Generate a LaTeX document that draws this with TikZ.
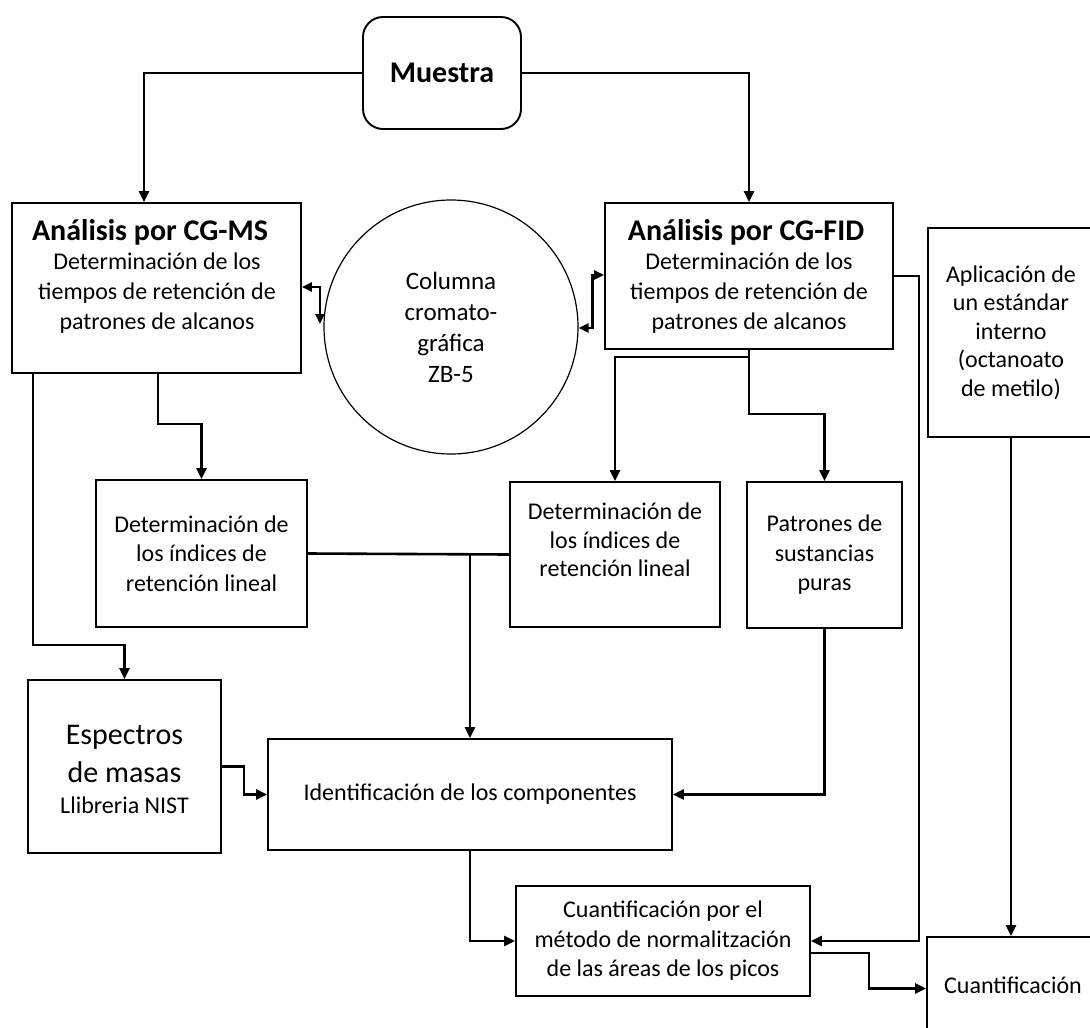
\documentclass[tikz,border=0pt]{standalone}
\usepackage{fontspec}
\setmainfont{Carlito}
\usetikzlibrary{arrows.meta,calc}
\begin{document}
\begin{tikzpicture}[x=1pt,y=-1pt,
  box/.style={draw, line width=1.9pt, inner sep=0pt, align=center,
    font=\fontsize{24}{29.5}\selectfont},
  conn/.style={line width=2.6pt},
  arr/.style={conn, -{Triangle[length=11pt,width=10pt]}},
  arrr/.style={conn, {Triangle[length=10pt,width=9pt]}-{Triangle[length=10pt,width=9pt]}},
  txt/.style={inner sep=0pt, align=center, font=\fontsize{24}{30}\selectfont},
  head/.style={inner sep=0pt, font=\bfseries\fontsize{30}{36}\selectfont}]
\useasboundingbox (0,0) rectangle (1090,1028);
\fill[white] (0,0) rectangle (1090,1028);
\begin{scope}
\clip (0,0) rectangle (1090,1028);
% nodes
\node[box, rounded corners=20pt, minimum width=158pt, minimum height=112pt,
  font=\bfseries\fontsize{30}{36}\selectfont] (muestra) at (442,73) {Muestra};
\node[box, minimum width=289pt, minimum height=170pt] (gms) at (156.5,288) {};
\node[head] (gmsh) at (150,232) {Análisis por CG-MS};
\node[txt] (gmst) at (157,293) {Determinación de los\\tiempos de retención de\\patrones de alcanos};
\node[draw, circle, line width=1.2pt, minimum size=254pt, inner sep=0pt, align=center,
  font=\fontsize{25}{31}\selectfont] (col) at (451,327) {Columna\\cromato-\\gráfica\\ZB-5};
\node[box, minimum width=288pt, minimum height=146pt] (gfid) at (749,276) {};
\node[head] (gfidh) at (746,232) {Análisis por CG-FID};
\node[txt] (gfidt) at (749,293) {Determinación de los\\tiempos de retención de\\patrones de alcanos};
\node[box, minimum width=166pt, minimum height=209pt,
  font=\fontsize{24}{28.5}\selectfont] (apl) at (1011,332.5)
  {Aplicación de\\un estándar\\interno\\(octanoato\\de metilo)};
\node[box, minimum width=211pt, minimum height=147pt] (dir1) at (201.5,553.5)
  {Determinación de\\los índices de\\retención lineal};
\node[box, minimum width=210pt, minimum height=145pt] (dir2) at (615,554.5) {};
\node[txt, font=\fontsize{24}{28.5}\selectfont] (dir2t) at (615,540)
  {Determinación de\\los índices de\\retención lineal};
\node[box, minimum width=155pt, minimum height=146pt] (pat) at (824.5,555)
  {Patrones de\\sustancias\\puras};
\node[box, minimum width=193pt, minimum height=173pt] (esp) at (124.5,766.5) {};
\node[txt, font=\fontsize{30}{38}\selectfont] (espt) at (124.5,754) {Espectros\\de masas};
\node[txt] (espn) at (124.5,805) {Llibreria NIST};
\node[box, minimum width=404pt, minimum height=111pt] (ide) at (470,794.5)
  {Identificación de los componentes};
\node[box, minimum width=294pt, minimum height=110pt] (cq1) at (663,941)
  {Cuantificación por el\\método de normalitzación\\de las áreas de los picos};
\node[box, minimum width=170pt, minimum height=103pt] (cq) at (1012,988.5) {};
\node[txt] (cqt) at (1013,985) {Cuantificación};
% connectors
\draw[arr] (muestra.west) -| ([xshift=-12.5pt]gms.north);
\draw[arr] (muestra.east) -| (gfid.north);
\draw[arr] ([xshift=-123.5pt]gms.south) |- ([yshift=34pt]esp.north) -- (esp.north);
\draw[arr] ([xshift=1.5pt]gms.south) |- ([yshift=55pt]dir1.north) -- (dir1.north);
\draw[arr] (gfid.south) |- ([yshift=124pt]dir2.north) -- (dir2.north);
\draw[arr] (gfid.south) |- ([yshift=67pt]pat.north) -- (pat.north);
\draw[conn] (dir1.east) -- (dir2.west);
\draw[arr] (ide.north |- dir1.east) -- (ide.north);
\draw[arr] (esp.east) -- ++(22,0) |- (ide.west);
\draw[arr] (pat.south) |- (ide.east);
\draw[arr] (gfid.east) -- ++(25,0) |- (cq1.east);
\draw[arr] (ide.south) |- (cq1.west);
\draw[arr] ([yshift=-12pt]cq1.east) -- ++(58,0) |- (cq.west);
\draw[arr] (apl.south) -- (apl.south |- cq.north);
\draw[arrr] ([yshift=1pt]gms.east) -- ++(18,0) -- ++(0,37);
\draw[arrr] ([yshift=-1pt]col.east) -- ++(14,0) |- ([yshift=1pt]gfid.west);
\end{scope}
\end{tikzpicture}
\end{document}
